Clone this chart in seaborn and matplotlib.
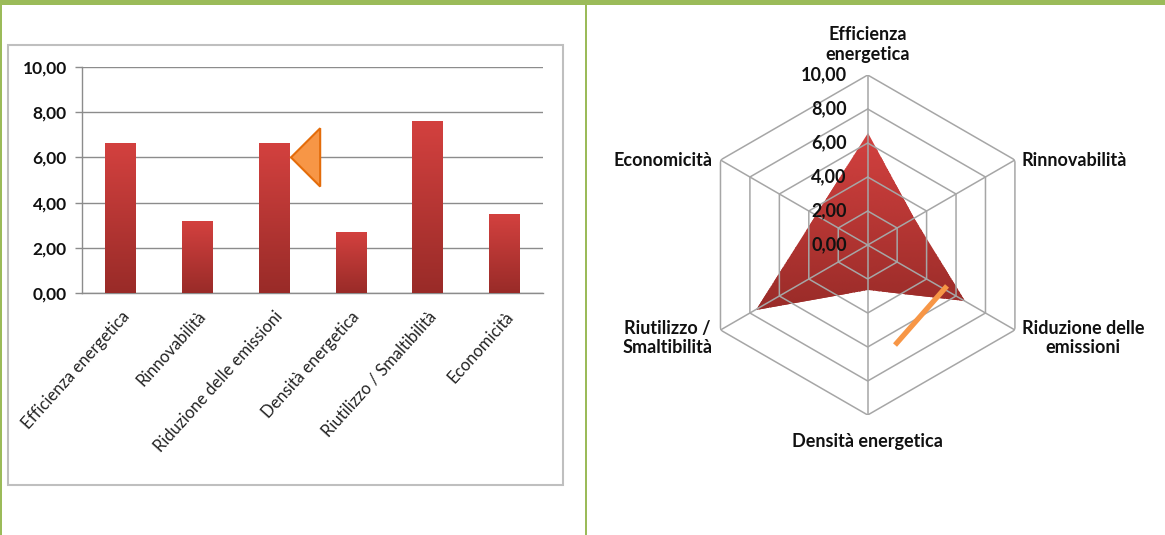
import numpy as np
import pandas as pd
import matplotlib
matplotlib.use('Agg')
import matplotlib.pyplot as plt
import matplotlib.patches as mpatches
from matplotlib.colors import LinearSegmentedColormap
import seaborn as sns

# data
categories = ['Efficienza energetica', 'Rinnovabilità', 'Riduzione delle emissioni',
              'Densità energetica', 'Riutilizzo / Smaltibilità', 'Economicità']
radar_labels = ['Efficienza\nenergetica', 'Rinnovabilità', 'Riduzione delle\nemissioni',
                'Densità energetica', 'Riutilizzo /\nSmaltibilità', 'Economicità']
scores = [6.60, 3.16, 6.60, 2.67, 7.60, 3.48]
y_ticks = [0, 2, 4, 6, 8, 10]
y_tick_labels = ['0,00', '2,00', '4,00', '6,00', '8,00', '10,00']

df = pd.DataFrame({'categoria': categories, 'punteggio': scores})

sns.set_theme(style='white')
plt.rcParams['font.family'] = ['Lato', 'DejaVu Sans']

green = '#9BBB59'
grid_col = '#8C8C8C'
red_cmap = LinearSegmentedColormap.from_list('rosso', ['#992B28', '#D3413F'])

fig = plt.figure(figsize=(11.65, 5.35), dpi=100)
W, H = 1165, 535

# green page frame
fig.add_artist(mpatches.Rectangle((0, 1 - 5 / H), 1, 5 / H, transform=fig.transFigure,
                                  color=green, lw=0))
fig.add_artist(mpatches.Rectangle((0, 0), 2 / W, 1, transform=fig.transFigure, color=green, lw=0))
fig.add_artist(mpatches.Rectangle((585 / W, 0), 2 / W, 1, transform=fig.transFigure, color=green, lw=0))
# chart box of the bar chart
fig.add_artist(mpatches.Rectangle((8 / W, (H - 485) / H), 555 / W, 440 / H, transform=fig.transFigure,
                                  fill=False, edgecolor='#BFBFBF', lw=1.5))

# ---------- bar chart ----------
ax = fig.add_axes([82 / W, (H - 293) / H, 461 / W, 226 / H])
sns.barplot(data=df, x='categoria', y='punteggio', color='#C0504D', width=0.4, ax=ax, zorder=3)
ax.set_xlim(-0.5, 5.5)
ax.set_ylim(0, 10)
grad = np.linspace(0, 1, 256).reshape(-1, 1)
for p in ax.patches:
    x0, w, h = p.get_x(), p.get_width(), p.get_height()
    ax.imshow(grad, cmap=red_cmap, origin='lower', aspect='auto',
              extent=[x0, x0 + w, 0, h], zorder=3)
    p.set_visible(False)
ax.set_xlim(-0.5, 5.5)
ax.set_ylim(0, 10)
ax.set_xlabel('')
ax.set_ylabel('')
ax.set_yticks(y_ticks)
ax.set_yticklabels(y_tick_labels, fontsize=12.5, fontweight='bold', color='#111111')
ax.set_xticks(range(len(categories)))
ax.set_xticklabels(categories, rotation=48, ha='right', rotation_mode='anchor',
                   fontsize=12, color='#222222')
ax.set_xticks(np.arange(-0.5, 6, 1), minor=True)
ax.tick_params(axis='x', which='major', length=0, pad=11)
ax.tick_params(axis='x', which='minor', length=5, color=grid_col, width=1, direction='out')
ax.tick_params(axis='y', length=5, color=grid_col, width=1, direction='out', pad=6, left=True)
ax.yaxis.grid(True, color=grid_col, lw=1)
ax.set_axisbelow(True)
for s in ['top', 'right']:
    ax.spines[s].set_visible(False)
for s in ['left', 'bottom']:
    ax.spines[s].set_color(grid_col)
    ax.spines[s].set_linewidth(1)

# orange callout arrow next to third bar
tip_x = 2 + 0.2 + 0.02
ax.add_patch(mpatches.Polygon([[tip_x, 6.0], [tip_x + 0.38, 7.29], [tip_x + 0.38, 4.71]],
                              closed=True, facecolor='#F79646', edgecolor='#E46C0A',
                              lw=1.5, zorder=5, clip_on=False))

# ---------- radar chart ----------
R = 170
rax = fig.add_axes([(867.7 - R) / W, (H - 245 - R) / H, 2 * R / W, 2 * R / H], polar=True)
rax.set_theta_zero_location('N')
rax.set_theta_direction(-1)
rax.set_ylim(0, 10)
rax.grid(False)
rax.spines['polar'].set_visible(False)
rax.set_xticks([])
rax.set_yticks([])
rax.patch.set_alpha(0)

n = len(categories)
theta = np.arange(n) * 2 * np.pi / n
theta_c = np.append(theta, theta[0])
vals_c = np.append(scores, scores[0])

poly = rax.fill(theta_c, vals_c, facecolor='none', edgecolor='none', zorder=2)[0]
T, Rr = np.meshgrid(np.linspace(0, 2 * np.pi, 361), np.linspace(0, 10, 101))
Yc = Rr * np.cos(T)
yv = vals_c * np.cos(theta_c)
mesh = rax.pcolormesh(T, Rr, Yc[:-1, :-1], cmap=red_cmap, vmin=yv.min(), vmax=yv.max(),
                      shading='flat', zorder=2)
mesh.set_clip_path(poly)

for lvl in y_ticks[1:]:
    rax.plot(theta_c, [lvl] * (n + 1), color='#A6A6A6', lw=1.1, zorder=3)
for t in theta:
    rax.plot([t, t], [0, 10], color='#A6A6A6', lw=1.1, zorder=3)

for lvl, lab in zip(y_ticks, y_tick_labels):
    rax.annotate(lab, xy=(0, lvl), xytext=(-21, 0), textcoords='offset pixels',
                 ha='right', va='center', fontsize=13, fontweight='bold', color='#111111',
                 zorder=4)

offsets = [(0, 12), (7, 0), (7, -8), (0, -26), (-8, -8), (-8, 0)]
aligns = [('center', 'bottom'), ('left', 'center'), ('left', 'center'),
          ('center', 'center'), ('right', 'center'), ('right', 'center')]
for t, lab, off, (ha, va) in zip(theta, radar_labels, offsets, aligns):
    rax.annotate(lab, xy=(t, 10), xytext=off, textcoords='offset pixels', ha=ha, va=va,
                 multialignment='center', fontsize=13, fontweight='bold', color='#111111',
                 annotation_clip=False)

# orange stroke drawn over the radar
rax.plot([2.875, 2.047], [6.1, 5.25], color='#F79646', lw=3.8, solid_capstyle='butt', zorder=5)

plt.savefig('out.png', dpi=100)
